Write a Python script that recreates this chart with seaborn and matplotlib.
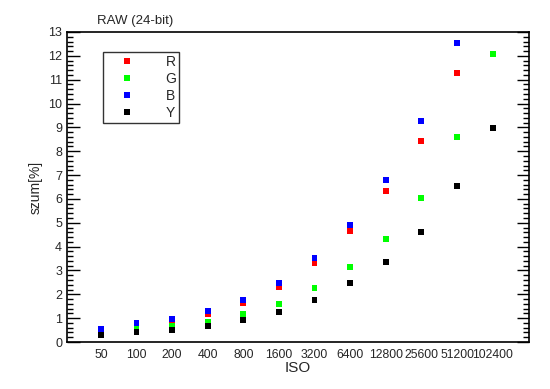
import numpy as np
import pandas as pd
import matplotlib
matplotlib.use("Agg")
import matplotlib.pyplot as plt
import seaborn as sns
from matplotlib.ticker import MultipleLocator

# --- data ---
iso = ["50", "100", "200", "400", "800", "1600", "3200", "6400",
       "12800", "25600", "51200", "102400"]
noise_r = [0.45, 0.64, 0.83, 1.16, 1.62, 2.31, 3.30, 4.64, 6.32, 8.41, 11.27, np.nan]
noise_g = [0.42, 0.56, 0.66, 0.84, 1.16, 1.58, 2.25, 3.13, 4.31, 6.05, 8.58, 12.06]
noise_b = [0.53, 0.78, 0.95, 1.29, 1.75, 2.46, 3.51, 4.89, 6.78, 9.25, 12.52, np.nan]
noise_y = [0.28, 0.41, 0.49, 0.66, 0.91, 1.25, 1.75, 2.46, 3.34, 4.60, 6.53, 8.96]

channels = ["R", "G", "B", "Y"]
colors = {"R": "#ff0000", "G": "#00ff00", "B": "#0000ff", "Y": "#000000"}

df = pd.DataFrame({
    "pos": list(range(len(iso))) * 4,
    "noise": noise_r + noise_g + noise_b + noise_y,
    "ch": sum([[c] * len(iso) for c in channels], []),
}).dropna()

sns.set_style("white")
plt.rcParams["font.family"] = ["Liberation Sans", "DejaVu Sans"]

fig = plt.figure(figsize=(5.5, 3.89), dpi=100)
ax = fig.add_axes([0.1218, 0.1208, 0.84, 0.797])

sns.scatterplot(data=df, x="pos", y="noise", hue="ch", hue_order=channels,
                palette=colors, marker="s", s=18, linewidth=0, ax=ax)

ax.set_xlim(-0.95, 12.02)
ax.set_ylim(0, 13)
ax.set_xticks(range(len(iso)))
ax.set_xticklabels(iso, fontsize=8.8)
ax.yaxis.set_major_locator(MultipleLocator(1))
ax.yaxis.set_minor_locator(MultipleLocator(0.2))
ax.tick_params(axis="y", which="major", direction="in", length=9, width=1,
               left=True, right=True, labelsize=9, color="black")
ax.tick_params(axis="y", which="minor", direction="in", length=4.5, width=1,
               left=True, right=True, color="black")
ax.tick_params(axis="x", which="both", length=0, pad=5)
for sp in ax.spines.values():
    sp.set_color("black")
    sp.set_linewidth(1.2)

ax.set_xlabel("ISO", fontsize=11, labelpad=0)
ax.set_ylabel("szum[%]", fontsize=10)
ax.set_title("RAW (24-bit)", fontsize=9.5, loc="left", x=0.065, pad=6)

leg = ax.legend(loc="upper left", bbox_to_anchor=(0.078, 0.935), borderaxespad=0,
                fancybox=False, frameon=True, edgecolor="black", fontsize=10,
                handletextpad=1.3, borderpad=0.2, labelspacing=0.22,
                handlelength=3.0, markerscale=1.0, title=None)
leg.get_frame().set_linewidth(1.0)

fig.savefig("out.png", dpi=100)
